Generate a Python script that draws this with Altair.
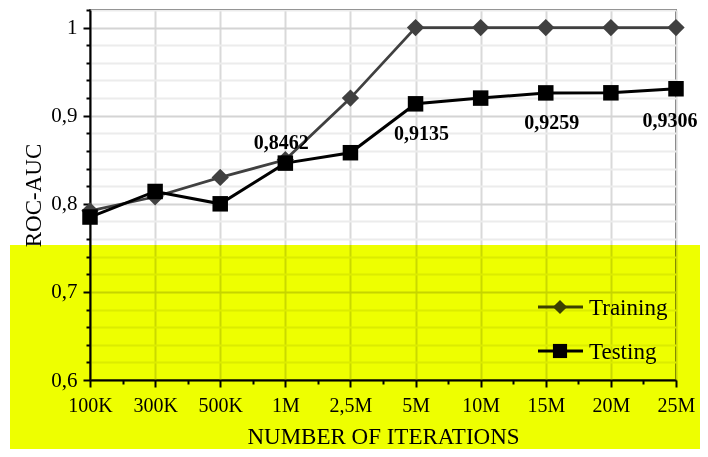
import json
import altair as alt
import pandas as pd

# ---- data ----
iterations = ["100K", "300K", "500K", "1M", "2,5M", "5M", "10M", "15M", "20M", "25M"]
training = [0.792, 0.808, 0.830, 0.850, 0.920, 1.0, 1.0, 1.0, 1.0, 1.0]
testing = [0.785, 0.814, 0.800, 0.8462, 0.858, 0.9135, 0.920, 0.9259, 0.926, 0.9306]
series_names = ["Training", "Testing"]
series_colors = ["#404040", "#000000"]
series_shapes = ["diamond", "square"]
label_above = ["1M"]
label_below = ["5M", "15M"]
label_edge = ["25M"]

SERIF = "Liberation Serif"

rows = []
for i, it in enumerate(iterations):
    rows.append({"idx": i, "iter": it, "series": "Training", "value": training[i]})
    rows.append({"idx": i, "iter": it, "series": "Testing", "value": testing[i]})
df = pd.DataFrame(rows)

lab = pd.DataFrame({
    "idx": list(range(len(iterations))),
    "iter": iterations,
    "value": testing,
    "label": [f"{v:.4f}".replace(".", ",") for v in testing],
})

leg = pd.DataFrame({"series": series_names, "row": list(range(len(series_names)))})

x_values = [i * 0.5 for i in range(2 * (len(iterations) - 1) + 1)]
y_values = [round(0.6 + 0.02 * i, 2) for i in range(22)]
major_y_test = "abs(datum.value*10 - round(datum.value*10)) < 0.000001"
major_x_test = "datum.value % 1 == 0"

x_enc = alt.X(
    "idx:Q",
    scale=alt.Scale(domain=[0, len(iterations) - 1], nice=False, zero=False),
    axis=alt.Axis(
        values=x_values,
        tickCount=200,
        labelExpr=f"{major_x_test} ? {json.dumps(iterations)}[datum.value] : ''",
        labelOverlap=False,
        labelFlush=False,
        labelFont=SERIF,
        labelFontSize=20,
        labelColor="black",
        labelPadding=8,
        tickColor="black",
        tickWidth=2,
        tickSize={"condition": {"test": major_x_test, "value": 7}, "value": 4},
        domainColor="black",
        domainWidth=2,
        gridColor="#d9d9d9",
        gridWidth=2,
        gridOpacity={"condition": {"test": major_x_test, "value": 1}, "value": 0},
        title="NUMBER OF ITERATIONS",
        titleFont=SERIF,
        titleFontSize=23,
        titleFontWeight="normal",
        titleColor="black",
        titlePadding=10,
    ),
)

y_enc = alt.Y(
    "value:Q",
    scale=alt.Scale(domain=[0.6, 1.02], nice=False, zero=False),
    axis=alt.Axis(
        values=y_values,
        tickCount=200,
        labelExpr=f"{major_y_test} ? replace(format(datum.value, '.1~f'), '.', ',') : ''",
        labelOverlap=False,
        labelFlush=False,
        labelFont=SERIF,
        labelFontSize=21,
        labelColor="black",
        labelPadding=6,
        tickColor="black",
        tickWidth=2,
        tickSize={"condition": {"test": major_y_test, "value": 7}, "value": 4},
        domainColor="black",
        domainWidth=2,
        gridColor={"condition": {"test": major_y_test, "value": "#d4d4d4"}, "value": "#ececec"},
        gridWidth=2,
        title="ROC-AUC",
        titleFont=SERIF,
        titleFontSize=23,
        titleFontWeight="normal",
        titleColor="black",
        titlePadding=5,
    ),
)

color_enc = alt.Color(
    "series:N",
    scale=alt.Scale(domain=series_names, range=series_colors),
    legend=None,
)

base = alt.Chart(df)

train_line = base.transform_filter(alt.datum.series == "Training").mark_line(strokeWidth=2.8).encode(
    x=x_enc, y=y_enc, color=color_enc
)
test_line = base.transform_filter(alt.datum.series == "Testing").mark_line(strokeWidth=3).encode(
    x=x_enc, y=y_enc, color=color_enc
)
train_pts = base.transform_filter(alt.datum.series == "Training").mark_point(
    shape="diamond", filled=True, size=300, opacity=1
).encode(x=x_enc, y=y_enc, color=color_enc)
test_pts = base.transform_filter(alt.datum.series == "Testing").mark_point(
    shape="square", filled=True, size=240, opacity=1
).encode(x=x_enc, y=y_enc, color=color_enc)

lab_base = alt.Chart(lab)
txt_kw = dict(font=SERIF, fontSize=20, fontWeight="bold", color="black")
lab_above = lab_base.transform_filter(
    alt.FieldOneOfPredicate(field="iter", oneOf=label_above)
).mark_text(dy=-20, dx=-4, **txt_kw).encode(x="idx:Q", y="value:Q", text="label:N")
lab_below = lab_base.transform_filter(
    alt.FieldOneOfPredicate(field="iter", oneOf=label_below)
).mark_text(dy=30, dx=6, **txt_kw).encode(x="idx:Q", y="value:Q", text="label:N")
lab_edge = lab_base.transform_filter(
    alt.FieldOneOfPredicate(field="iter", oneOf=label_edge)
).mark_text(dy=32, dx=-6, **txt_kw).encode(x="idx:Q", y="value:Q", text="label:N")

main = alt.layer(train_line, test_line, train_pts, test_pts, lab_above, lab_below, lab_edge)

# ---- legend drawn as marks (rows placed by a linear scale) ----
leg_y = alt.Y(
    "row:Q",
    scale=alt.Scale(domain=[0, len(series_names) - 1], range=[297, 341], nice=False, zero=False),
    axis=None,
)
leg_base = alt.Chart(leg)
leg_rule = leg_base.mark_rule(strokeWidth=3).encode(
    x=alt.value(448), x2=alt.value(493), y=leg_y, color=color_enc
)
leg_pt = leg_base.mark_point(filled=True, size=200, opacity=1).encode(
    x=alt.value(470), y=leg_y, color=color_enc,
    shape=alt.Shape("series:N", scale=alt.Scale(domain=series_names, range=series_shapes), legend=None),
)
leg_txt = leg_base.mark_text(
    align="left", baseline="middle", font=SERIF, fontSize=23, color="black", dy=1
).encode(x=alt.value(499), y=leg_y, text="series:N")
legend_layer = alt.layer(leg_rule, leg_pt, leg_txt)

# yellow highlight band over the lower part of the picture
highlight = alt.Chart(pd.DataFrame({"k": [0]})).mark_rect(
    color="#eeff00", blend="multiply", opacity=1
).encode(
    x=alt.value(-80), x2=alt.value(640), y=alt.value(235), y2=alt.value(470)
)

chart = alt.layer(main, legend_layer, highlight).resolve_scale(
    y="independent"
).properties(
    width=586,
    height=370,
    autosize="none",
    padding={"left": 82, "top": 2, "right": 24, "bottom": 69},
    background="white",
).configure_view(stroke="black", strokeWidth=1.5)

chart.save("out.html", embed_options={"renderer": "svg", "actions": False})
